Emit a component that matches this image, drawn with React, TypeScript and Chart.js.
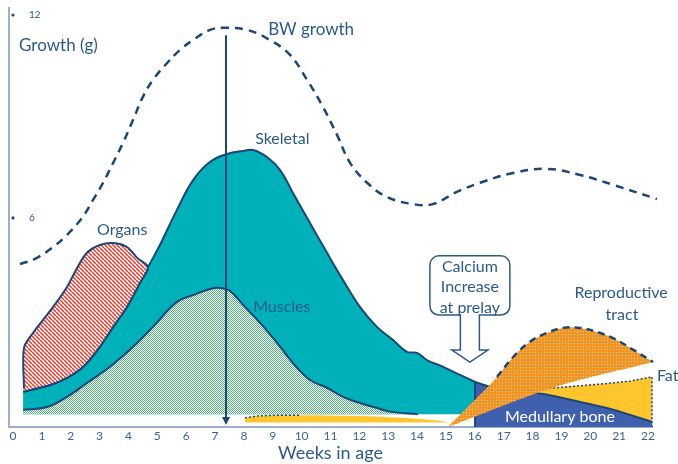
import { useEffect, useRef } from 'react';
import { Chart, registerables } from 'chart.js';

Chart.register(...registerables);

// ---------- data ----------
const weekTicks = [0, 1, 2, 3, 4, 5, 6, 7, 8, 9, 10, 11, 12, 13, 14, 15, 16, 17, 18, 19, 20, 21, 22];
const growthTicks = [6, 12];

const bwWeeks = [0.24, 0.76, 1.39, 1.87, 2.39, 2.77, 3.12, 3.47, 3.81, 4.16, 4.5, 4.85, 5.34, 5.79, 6.24, 6.83, 7.28, 8.11, 8.9, 9.6, 10.19, 10.74, 11.23, 11.68, 12.27, 12.96, 13.86, 14.55, 15.38, 16.18, 17.33, 18.5, 19.65, 20.79, 22.31];
const bwGrams = [4.64, 4.79, 5.14, 5.5, 6.0, 6.53, 7.04, 7.63, 8.22, 8.9, 9.58, 10.08, 10.58, 10.97, 11.26, 11.56, 11.62, 11.56, 11.26, 10.82, 10.08, 9.28, 8.45, 7.63, 7.04, 6.62, 6.41, 6.41, 6.77, 7.04, 7.33, 7.45, 7.27, 6.98, 6.56];

const skeletalWeeks = [0.35, 1.28, 1.87, 2.43, 3.01, 3.47, 3.95, 4.4, 4.68, 5.09, 5.68, 6.24, 6.83, 7.42, 7.97, 8.32, 8.8, 9.25, 9.7, 10.29, 10.88, 11.43, 12.02, 12.61, 13.17, 13.65, 14.0, 14.34, 14.9, 15.49, 16.01];
const skeletalGrams = [0.86, 1.06, 1.27, 1.6, 2.19, 2.78, 3.37, 4.08, 4.55, 5.2, 6.24, 7.12, 7.66, 7.89, 7.98, 8.01, 7.8, 7.42, 6.74, 5.85, 4.97, 4.17, 3.37, 2.78, 2.39, 2.04, 2.01, 1.8, 1.6, 1.36, 1.15];

const organWeeks = [0.38, 0.38, 0.69, 1.04, 1.39, 1.87, 2.22, 2.56, 3.01, 3.47, 3.95, 4.3, 4.68];
const organGrams = [0.95, 2.16, 2.6, 2.99, 3.37, 3.96, 4.52, 4.97, 5.2, 5.26, 5.14, 4.82, 4.55];

const muscleWeeks = [0.35, 1.18, 1.87, 2.56, 3.36, 4.16, 4.85, 5.68, 6.24, 6.83, 7.17, 7.52, 7.97, 8.56, 9.15, 9.7, 10.29, 10.88, 11.43, 12.02, 12.61, 13.17, 14.03];
const muscleGrams = [0.33, 0.41, 0.71, 1.12, 1.6, 2.19, 2.78, 3.52, 3.72, 3.9, 3.93, 3.84, 3.43, 2.9, 2.31, 1.71, 1.21, 0.98, 0.71, 0.53, 0.38, 0.26, 0.2];

const reproTopWeeks = [15.07, 15.66, 16.18, 16.77, 17.33, 17.91, 18.5, 19.06, 19.65, 20.24, 20.79, 21.38, 22.18];
const reproTopGrams = [-0.18, 0.33, 0.77, 1.3, 1.89, 2.34, 2.6, 2.75, 2.75, 2.63, 2.45, 2.16, 1.74];
const reproBottomWeeks = [22.18, 18.71, 15.07];
const reproBottomGrams = [1.74, 0.98, -0.18];

const medullaryWeeks = [16.01, 16.01, 16.01, 16.6, 17.5, 18.43, 19.65, 20.79, 22.14];
const medullaryGrams = [-0.18, 1.15, 1.15, 1.0, 0.9, 0.79, 0.56, 0.33, -0.03];

const fatEarlyWeeks = [8.04, 8.56, 9.94, 11.68, 13.41, 14.8, 15.42];
const fatEarlyGrams = [0.09, 0.15, 0.17, 0.15, 0.09, 0.0, -0.09];
const fatLateWeeks = [18.3, 19.5, 20.5, 21.4, 22.14, 22.14];
const fatLateGrams = [0.94, 1.03, 1.1, 1.18, 1.3, -0.18];

// ---------- styling ----------
const NAVY = '#1b4677';
const TEXT = '#2b5a8a';
const AXIS = '#9bb0cc';
const TEAL = '#00b1ba';
const BLUE = '#3f60ad';
const YELLOW = '#fec62c';
const FONT = 'Lato, "Noto Sans", sans-serif';

const BASE = 0.2;
const FLOOR = -0.18;

const pts = (xs: number[], ys: number[]) => xs.map((x, i) => ({ x, y: ys[i] }));

function makePattern(kind: string): CanvasPattern | string {
  const c = document.createElement('canvas');
  const g = c.getContext('2d');
  if (!g) return '#ccc';
  if (kind === 'hatch') {
    const s = 4;
    c.width = s; c.height = s;
    g.fillStyle = '#ffffff';
    g.fillRect(0, 0, s, s);
    g.strokeStyle = '#e8392c';
    g.lineWidth = 1.5;
    for (const x0 of [-s, 0, s]) {
      g.beginPath();
      g.moveTo(x0, 0);
      g.lineTo(x0 + s, s);
      g.stroke();
    }
  } else if (kind === 'zigzag') {
    c.width = 4; c.height = 4;
    g.fillStyle = '#ffffff';
    g.fillRect(0, 0, 4, 4);
    g.fillStyle = '#52b27a';
    const cells = [[0, 0], [1, 1], [2, 0], [3, 1], [0, 2], [1, 3], [2, 2], [3, 3]];
    for (const [x, y] of cells) g.fillRect(x, y, 1, 1);
  } else {
    c.width = 3; c.height = 3;
    g.fillStyle = '#f6921e';
    g.fillRect(0, 0, 3, 3);
    g.fillStyle = 'rgba(255,255,255,0.7)';
    g.fillRect(1, 1, 1, 1);
  }
  return g.createPattern(c, 'repeat') || '#ccc';
}

const labelSpecs = [
  { text: 'BW growth', x: 8.84, y: 11.56, align: 'left', size: 17, color: TEXT },
  { text: 'Skeletal', x: 8.39, y: 8.34, align: 'left', size: 16, color: TEXT },
  { text: 'Muscles', x: 8.32, y: 3.37, align: 'left', size: 16, color: TEXT },
  { text: 'Organs', x: 2.91, y: 5.65, align: 'left', size: 16, color: TEXT },
  { text: 'Reproductive', x: 21.07, y: 3.78, align: 'center', size: 16, color: TEXT },
  { text: 'tract', x: 21.1, y: 3.13, align: 'center', size: 16, color: TEXT },
  { text: 'Fat', x: 22.31, y: 1.33, align: 'left', size: 16, color: TEXT },
  { text: 'Medullary bone', x: 18.95, y: 0.12, align: 'center', size: 16, color: '#ffffff' },
  { text: 'Growth (g)', x: 0.21, y: 11.11, align: 'left', size: 17, color: TEXT },
];

const arrowWeek = 7.38;
const arrowTop = 11.4;
const arrowBottom = -0.12;
const calloutWeek = 15.83;
const calloutTop = 4.88;
const calloutBottom = 3.13;
const calloutTip = 1.74;
const calloutLines = ['Calcium', 'Increase', 'at prelay'];

const annotationPlugin = {
  id: 'annotations',
  afterDatasetsDraw(chart: any) {
    const { ctx, scales } = chart;
    const xs = scales.x;
    const ys = scales.y;
    ctx.save();

    // y ticks: bullet + number
    for (const t of growthTicks) {
      const py = ys.getPixelForValue(t);
      ctx.fillStyle = NAVY;
      ctx.beginPath();
      ctx.arc(13, py, 1.6, 0, Math.PI * 2);
      ctx.fill();
      ctx.fillStyle = TEXT;
      ctx.font = `10px ${FONT}`;
      ctx.textAlign = 'left';
      ctx.textBaseline = 'middle';
      ctx.fillText(String(t), 29, py);
    }

    // vertical arrow
    const ax = xs.getPixelForValue(arrowWeek);
    const aTop = ys.getPixelForValue(arrowTop);
    const aBot = ys.getPixelForValue(arrowBottom);
    ctx.strokeStyle = NAVY;
    ctx.fillStyle = NAVY;
    ctx.lineWidth = 2;
    ctx.beginPath();
    ctx.moveTo(ax, aTop);
    ctx.lineTo(ax, aBot - 5);
    ctx.stroke();
    ctx.beginPath();
    ctx.moveTo(ax - 4, aBot - 8);
    ctx.lineTo(ax + 4, aBot - 8);
    ctx.lineTo(ax, aBot);
    ctx.closePath();
    ctx.fill();

    // callout box with hollow arrow
    const cx = xs.getPixelForValue(calloutWeek);
    const top = ys.getPixelForValue(calloutTop);
    const bot = ys.getPixelForValue(calloutBottom);
    const tip = ys.getPixelForValue(calloutTip);
    const hw = 40, r = 9, sw = 9.5, hh = 18, headBase = tip - 12;
    ctx.beginPath();
    ctx.moveTo(cx - sw, bot);
    ctx.lineTo(cx - sw, headBase);
    ctx.lineTo(cx - hh, headBase);
    ctx.lineTo(cx, tip);
    ctx.lineTo(cx + hh, headBase);
    ctx.lineTo(cx + sw, headBase);
    ctx.lineTo(cx + sw, bot);
    ctx.lineTo(cx + hw - r, bot);
    ctx.arcTo(cx + hw, bot, cx + hw, bot - r, r);
    ctx.lineTo(cx + hw, top + r);
    ctx.arcTo(cx + hw, top, cx + hw - r, top, r);
    ctx.lineTo(cx - hw + r, top);
    ctx.arcTo(cx - hw, top, cx - hw, top + r, r);
    ctx.lineTo(cx - hw, bot - r);
    ctx.arcTo(cx - hw, bot, cx - hw + r, bot, r);
    ctx.closePath();
    ctx.fillStyle = '#ffffff';
    ctx.fill();
    ctx.strokeStyle = TEXT;
    ctx.lineWidth = 1.5;
    ctx.stroke();
    ctx.fillStyle = TEXT;
    ctx.font = `16px ${FONT}`;
    ctx.textAlign = 'center';
    ctx.textBaseline = 'middle';
    calloutLines.forEach((line, i) => {
      ctx.fillText(line, cx, top + 11 + i * 20.5);
    });

    // labels
    for (const l of labelSpecs) {
      ctx.font = `${l.size}px ${FONT}`;
      ctx.fillStyle = l.color;
      ctx.textAlign = l.align as CanvasTextAlign;
      ctx.textBaseline = 'middle';
      ctx.fillText(l.text, xs.getPixelForValue(l.x), ys.getPixelForValue(l.y));
    }
    ctx.restore();
  },
};

export default function App() {
  const ref = useRef<HTMLCanvasElement | null>(null);

  useEffect(() => {
    if (!ref.current) return;
    const hatch = makePattern('hatch');
    const zig = makePattern('zigzag');
    const dots = makePattern('dots');

    const organShape = [
      ...pts(organWeeks, organGrams),
      ...pts(skeletalWeeks, skeletalGrams).filter((p) => p.x < 4.68).reverse(),
    ];
    const reproShape = [...pts(reproTopWeeks, reproTopGrams), ...pts(reproBottomWeeks, reproBottomGrams)];
    const reproOutline = pts(reproTopWeeks, reproTopGrams).slice(3);

    const chart = new Chart(ref.current, {
      type: 'line',
      data: {
        datasets: [
          {
            label: 'BW growth',
            data: pts(bwWeeks, bwGrams),
            borderColor: NAVY,
            borderWidth: 2.5,
            borderDash: [8, 6],
            fill: false,
            tension: 0.4,
            pointRadius: 0,
            clip: false as any,
          },
          {
            label: 'Reproductive tract outline',
            data: reproOutline,
            borderColor: NAVY,
            borderWidth: 2.5,
            borderDash: [7, 5],
            fill: false,
            tension: 0.35,
            pointRadius: 0,
            clip: false as any,
          },
          {
            label: 'Reproductive tract',
            data: reproShape,
            backgroundColor: dots as any,
            borderColor: 'rgba(0,0,0,0)',
            borderWidth: 0,
            fill: 'shape' as any,
            tension: 0.35,
            pointRadius: 0,
            clip: false as any,
          },
          {
            label: 'Medullary bone',
            data: pts(medullaryWeeks, medullaryGrams),
            backgroundColor: BLUE,
            borderColor: NAVY,
            borderWidth: 2,
            fill: { value: FLOOR } as any,
            tension: 0.3,
            pointRadius: 0,
            clip: false as any,
          },
          {
            label: 'Fat',
            data: pts(fatLateWeeks, fatLateGrams),
            backgroundColor: YELLOW,
            borderColor: NAVY,
            borderWidth: 1.5,
            borderDash: [2, 2],
            fill: { value: FLOOR } as any,
            tension: 0,
            pointRadius: 0,
            clip: false as any,
          },
          {
            label: 'Fat early',
            data: pts(fatEarlyWeeks, fatEarlyGrams),
            backgroundColor: YELLOW,
            borderColor: NAVY,
            borderWidth: 1.5,
            borderDash: [2, 2],
            fill: { value: -0.05 } as any,
            tension: 0.3,
            pointRadius: 0,
            segment: {
              borderColor: (c: any) => (c.p0DataIndex < 2 ? NAVY : 'rgba(0,0,0,0)'),
            },
          },
          {
            label: 'Organs',
            data: organShape,
            backgroundColor: hatch as any,
            borderColor: NAVY,
            borderWidth: 2,
            fill: 'shape' as any,
            tension: 0.3,
            pointRadius: 0,
          },
          {
            label: 'Muscles',
            data: pts(muscleWeeks, muscleGrams),
            backgroundColor: zig as any,
            borderColor: NAVY,
            borderWidth: 2,
            fill: { value: BASE } as any,
            tension: 0.4,
            pointRadius: 0,
          },
          {
            label: 'Skeletal',
            data: pts(skeletalWeeks, skeletalGrams),
            backgroundColor: TEAL,
            borderColor: NAVY,
            borderWidth: 2,
            fill: { value: BASE } as any,
            tension: 0.4,
            pointRadius: 0,
          },
        ],
      },
      options: {
        animation: false,
        responsive: true,
        maintainAspectRatio: false,
        layout: { padding: { top: 8, right: 26, left: 0, bottom: 0 } },
        plugins: { legend: { display: false }, tooltip: { enabled: false } },
        elements: { point: { radius: 0 } },
        scales: {
          x: {
            type: 'linear',
            min: -0.139,
            max: 22.14,
            grid: { display: false, drawTicks: false },
            border: { display: true, color: AXIS, width: 2 },
            afterBuildTicks: (s: any) => {
              s.ticks = weekTicks.map((v) => ({ value: v }));
            },
            afterFit: (s: any) => {
              s.height = 37;
            },
            ticks: {
              autoSkip: false,
              maxRotation: 0,
              padding: 2,
              color: '#3a6494',
              font: { size: 12, family: FONT },
              callback: (v: any) => String(v),
            },
            title: {
              display: true,
              text: 'Weeks in age',
              color: TEXT,
              font: { size: 18, family: FONT },
              padding: { top: 0, bottom: 0 },
            },
          },
          y: {
            type: 'linear',
            min: FLOOR,
            max: 12.207,
            grid: { display: false, drawTicks: false },
            border: { display: true, color: AXIS, width: 2 },
            afterBuildTicks: (s: any) => {
              s.ticks = growthTicks.map((v) => ({ value: v }));
            },
            afterFit: (s: any) => {
              s.width = 9;
            },
            ticks: { display: false },
          },
        },
      },
      plugins: [annotationPlugin],
    });
    return () => chart.destroy();
  }, []);

  return (
    <div style={{ position: 'fixed', left: 0, top: 0, width: 678, height: 464, background: '#ffffff' }}>
      <canvas ref={ref} />
    </div>
  );
}
